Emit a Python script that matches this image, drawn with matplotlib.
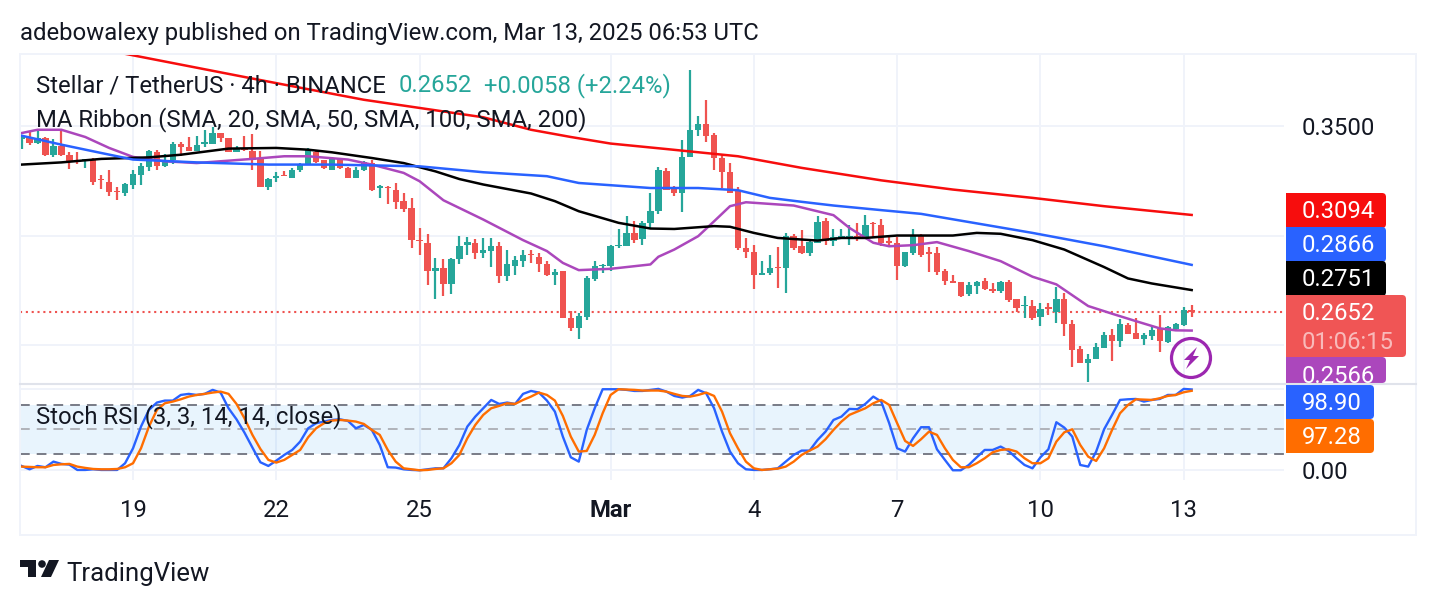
#!/usr/bin/env python

# TradingView style XLM/USDT 4h chart with MA ribbon and Stoch RSI pane.

import matplotlib
matplotlib.use('Agg')
import matplotlib.pyplot as plt
from matplotlib.patches import Rectangle, FancyBboxPatch, Circle, Polygon

plt.rcParams['font.family'] = ['Roboto', 'DejaVu Sans']

# Candles, one per 4h bar
opens = [.3441, .3447, .3423, .3447, .3368, .3410, .3368, .3344, .3340, .3350, .3260, .3246, .3204, .3192, .3233, .3278,
         .3313, .3383, .3319, .3344, .3418, .3404, .3385, .3420, .3420, .3468, .3445, .3380, .3400, .3385, .3350, .3222,
         .3261, .3277, .3264, .3298, .3324, .3380, .3344, .3301, .3354, .3307, .3264, .3298, .3331, .3219, .3222, .3210,
         .3158, .3128, .2980, .2967, .2837, .2853, .2777, .2891, .2959, .2967, .2921, .2929, .2954, .2815, .2863, .2883,
         .2916, .2903, .2872, .2819, .2837, .2625, .2577, .2628, .2800, .2859, .2860, .2950, .2951, .3012, .2982, .3055,
         .3111, .3296, .3213, .3192, .3357, .3480, .3511, .3461, .3354, .3292, .3202, .2944, .2927, .2818, .2827, .2857,
         .2850, .3000, .2951, .2918, .2967, .3065, .2974, .2989, .2989, .2997, .2982, .3058, .3050, .2977, .2964, .2860,
         .2921, .3000, .2924, .2918, .2836, .2793, .2786, .2731, .2769, .2792, .2758, .2746, .2790, .2708, .2678, .2678,
         .2628, .2672, .2653, .2708, .2594, .2480, .2416, .2435, .2486, .2547, .2517, .2593, .2553, .2526, .2541, .2571,
         .2515, .2571, .2590, .2658]
highs = [.3456, .3471, .3486, .3450, .3441, .3476, .3382, .3382, .3350, .3354, .3278, .3301, .3222, .3240, .3298, .3331,
         .3392, .3392, .3374, .3427, .3426, .3450, .3456, .3483, .3496, .3468, .3445, .3407, .3456, .3465, .3385, .3263,
         .3290, .3295, .3309, .3331, .3400, .3385, .3347, .3359, .3354, .3313, .3313, .3339, .3347, .3230, .3225, .3240,
         .3195, .3172, .3035, .3005, .2898, .2891, .2898, .3000, .2994, .2982, .2989, .2989, .2971, .2932, .2906, .2932,
         .2936, .2918, .2883, .2845, .2837, .2655, .2647, .2815, .2883, .2868, .2959, .3030, .3091, .3065, .3065, .3192,
         .3313, .3309, .3228, .3438, .3757, .3547, .3620, .3468, .3369, .3331, .3222, .2989, .2959, .2883, .2913, .2948,
         .3012, .3009, .3027, .2985, .3088, .3081, .3030, .3030, .3046, .3058, .3096, .3062, .3076, .3002, .2994, .2926,
         .3030, .3008, .2947, .2948, .2848, .2822, .2789, .2787, .2792, .2807, .2784, .2792, .2795, .2711, .2726, .2705,
         .2690, .2690, .2766, .2736, .2612, .2495, .2457, .2511, .2561, .2571, .2617, .2599, .2625, .2553, .2591, .2635,
         .2587, .2599, .2672, .2684]
lows = [.3397, .3415, .3420, .3362, .3357, .3365, .3306, .3328, .3310, .3233, .3214, .3182, .3161, .3179, .3211, .3233,
        .3293, .3298, .3313, .3325, .3362, .3385, .3385, .3404, .3420, .3426, .3380, .3380, .3385, .3301, .3220, .3210,
        .3243, .3271, .3261, .3289, .3324, .3331, .3304, .3298, .3306, .3264, .3264, .3295, .3205, .3172, .3146, .3123,
        .3106, .2941, .2910, .2774, .2708, .2726, .2731, .2872, .2913, .2894, .2898, .2857, .2784, .2792, .2819, .2857,
        .2875, .2833, .2815, .2774, .2625, .2564, .2529, .2614, .2792, .2830, .2837, .2944, .2951, .2967, .2956, .3032,
        .3097, .3207, .3179, .3106, .3357, .3453, .3426, .3301, .3217, .3192, .2932, .2898, .2754, .2818, .2818, .2760,
        .2736, .2932, .2916, .2906, .2967, .2959, .2951, .2982, .2959, .2977, .2982, .2989, .2951, .2956, .2799, .2857,
        .2913, .2901, .2833, .2818, .2772, .2781, .2720, .2723, .2731, .2749, .2736, .2736, .2696, .2650, .2622, .2614,
        .2587, .2635, .2599, .2541, .2400, .2416, .2331, .2435, .2486, .2427, .2491, .2549, .2526, .2500, .2523, .2468,
        .2511, .2564, .2587, .2628]
closes = [.3456, .3423, .3445, .3368, .3410, .3368, .3337, .3337, .3350, .3246, .3252, .3198, .3198, .3237, .3283, .3319,
          .3386, .3319, .3347, .3420, .3403, .3385, .3415, .3427, .3468, .3444, .3380, .3395, .3392, .3347, .3222, .3258,
          .3274, .3271, .3301, .3328, .3389, .3337, .3307, .3356, .3307, .3264, .3301, .3334, .3207, .3225, .3216, .3152,
          .3122, .2979, .2974, .2837, .2853, .2777, .2895, .2954, .2970, .2918, .2932, .2954, .2815, .2868, .2886, .2913,
          .2910, .2868, .2818, .2834, .2625, .2579, .2632, .2807, .2860, .2865, .2951, .2957, .3012, .2979, .3058, .3114,
          .3301, .3207, .3192, .3359, .3483, .3511, .3456, .3354, .3289, .3192, .2941, .2924, .2818, .2830, .2853, .2851,
          .3000, .2944, .2918, .2970, .3064, .2974, .2994, .2997, .2997, .2982, .3050, .3053, .2967, .2967, .2863, .2924,
          .3000, .2913, .2915, .2833, .2792, .2783, .2726, .2772, .2790, .2754, .2746, .2789, .2705, .2669, .2684, .2625,
          .2666, .2664, .2708, .2596, .2477, .2416, .2438, .2492, .2547, .2517, .2594, .2550, .2526, .2547, .2567, .2518,
          .2582, .2594, .2660, .2652]

# MA ribbon, read at the bends of each line
ma20_x = [0, 2, 5, 8, 11, 14, 18, 22, 29, 33, 36, 41, 44, 48, 50, 53, 58, 63, 66, 68, 70, 74, 79, 80, 82, 85, 87, 89, 91,
          97, 102, 104, 107, 109, 112, 115, 119, 123, 127, 130, 134, 137, 140, 143, 145, 147]
ma20 = [.3468, .3483, .3483, .3450, .3400, .3359, .3339, .3331, .3350, .3362, .3362, .3347, .3324, .3286, .3248, .3161,
        .3073, .2979, .2929, .2875, .2842, .2848, .2868, .2903, .2936, .2997, .3065, .3134, .3152, .3137, .3093, .3035,
        .2967, .2951, .2956, .2970, .2929, .2883, .2812, .2777, .2678, .2643, .2609, .2576, .2567, .2566]
ma50_x = [0, 5, 10, 16, 20, 26, 32, 36, 39, 44, 48, 52, 55, 58, 64, 67, 70, 75, 79, 82, 87, 89, 92, 95, 100, 103, 106,
          110, 117, 120, 123, 127, 131, 136, 139, 142, 147]
ma50 = [.3324, .3334, .3350, .3357, .3369, .3397, .3400, .3392, .3380, .3354, .3331, .3293, .3258, .3233, .3192, .3157,
        .3111, .3058, .3032, .3030, .3043, .3040, .3012, .2989, .2977, .2989, .2989, .3000, .3000, .3012, .3008, .2979,
        .2936, .2856, .2804, .2781, .2751]
ma100_x = [0, 5, 10, 14, 22, 31, 39, 50, 58, 66, 70, 79, 85, 90, 94, 98, 102, 108, 113, 127, 136, 147]
ma100 = [.3456, .3415, .3377, .3347, .3334, .3324, .3324, .3316, .3289, .3271, .3240, .3217, .3217, .3207, .3172, .3154,
         .3137, .3116, .3099, .3012, .2951, .2866]
ma200_x = [13, 28, 33, 43, 58, 64, 69, 74, 81, 90, 98, 108, 117, 127, 136, 147]
ma200 = [.3830, .3724, .3689, .3620, .3540, .3483, .3450, .3420, .3395, .3362, .3309, .3252, .3210, .3172, .3134, .3094]

stoch_k = [5.3, 1.2, 5.3, 3.7, 10.6, 7.8, 6.9, .4, .4, 1.2, .4, .4, .4, 8.6, 26.9, 53.5,
           73.9, 82.9, 85.3, 85.3, 92.2, 93.5, 92.2, 93.5, 98.4, 95.1, 75.9, 62.4, 46.1, 27.8, 9.8, 5.3,
           11.8, 18.8, 24.9, 35.1, 51.4, 57.6, 59.6, 61.6, 62.4, 60.4, 51.4, 55.5, 49.4, 31, 3.7, 3.3,
           1.2, .4, 0, 1.2, 2.4, 2.4, 14.7, 31, 53.5, 65.7, 75.9, 86.1, 81.2, 82.9, 81.2, 93.5,
           97.1, 95.1, 85.3, 71.8, 41.2, 15.9, 10.6, 49.4, 75.9, 99.2, 99.2, 99.2, 98.4, 97.1, 97.1, 98.4,
           99.6, 96.3, 91, 89, 91, 98.4, 94.3, 75.9, 47.3, 22.9, 8.6, 1.2, .4, .4, 1.2, 2.4,
           10.6, 18.8, 24.1, 24.1, 37.1, 47.3, 61.6, 65.7, 75.1, 74.7, 81.2, 90.2, 84.1, 57.6, 26.9, 22.9,
           39.2, 52.7, 52.7, 25.7, 12.7, 0, 0, 6.5, 15.9, 24.9, 24.9, 29, 23.7, 14.7, 6.5, 2.4,
           15.9, 25.7, 58.8, 52.2, 41.2, 6.5, 4.5, 22.9, 50.2, 67.8, 86.1, 86.9, 87.3, 84.1, 86.1, 87.3,
           92.2, 92.2, 99.6, 98.9]
stoch_d = [4.5, 4.1, 3.7, 3.7, 6.5, 7.3, 7.8, 4.5, 2.9, 1.6, 1.2, 1.2, 1.6, 3.7, 8.6, 26.9,
           53.5, 73.9, 82, 84.1, 86.9, 90.2, 92.2, 93.5, 95.1, 96.3, 93.5, 81.2, 63.7, 43.3, 26.1, 12.7,
           9.4, 12.7, 18.8, 24.9, 40.4, 51.4, 57.6, 60.8, 61.6, 60.8, 59.6, 56.7, 49.4, 43.3, 24.9, 10.6,
           2.4, 1.2, 0, .4, 1.6, 2.4, 8.6, 18.8, 39.2, 55.5, 67.8, 75.9, 78.8, 82, 81.2, 86.1,
           90.2, 95.1, 92.2, 85.3, 66.5, 41.2, 22.9, 23.7, 43.3, 69.8, 92.2, 99.2, 98.8, 98.4, 97.6, 97.6,
           97.6, 96.3, 93.5, 91, 90.2, 92.2, 95.1, 91, 71.8, 45.3, 26.9, 10.6, 2.4, .4, 1.2, 2,
           4.5, 10.6, 18.8, 24.1, 29, 38, 49.4, 59.6, 67.8, 71.8, 75.9, 82, 86.1, 80, 57.6, 35.9,
           29.8, 38, 47.3, 43.3, 26.9, 12.7, 3.7, 3.7, 8.6, 14.7, 22, 24.9, 25.7, 22.9, 14.7, 8.6,
           8.6, 14.7, 35.1, 46.5, 50.2, 31, 16.7, 11.4, 26.9, 49.4, 69.8, 80, 86.9, 86.5, 86.1, 88.2,
           91, 92.2, 95.5, 97.28]

day_ticks = [14, 32, 50, 74, 92, 110, 128, 146]
day_labels = ['19', '22', '25', 'Mar', '4', '7', '10', '13']
price_ticks = [.25, .30, .35]
price_labels = ['', '', '0.3500']
stoch_ticks = [0, 100]
stoch_labels = ['0.00', '']
last_price = .2652

INK = '#131722'
GRID = '#f0f3fa'
UP = '#26a69a'
DOWN = '#ef5350'
FS = 17.2

W, H = 1436, 606
fig = plt.figure(figsize=(W/100, H/100), dpi=100, facecolor='white')


def rect(left, top, right, bottom):
    return [left/W, 1-bottom/H, (right-left)/W, (bottom-top)/H]


# Price pane
ax = fig.add_axes(rect(20, 54, 1284, 384))
ax.set_xlim(-0.2, 158.6)
ax.set_ylim(.2322, .3829)
colours = [UP if c >= o else DOWN for o, c in zip(opens, closes)]
xs = list(range(len(opens)))
ax.vlines(xs, lows, highs, colors=colours, lw=1.6, zorder=3)
ax.bar(xs, [abs(c-o) for o, c in zip(opens, closes)], bottom=[min(o, c) for o, c in zip(opens, closes)],
       width=0.8, color=colours, linewidth=0, zorder=3)
ax.plot(ma20_x, ma20, color='#ab47bc', lw=1.8, zorder=4)
ax.plot(ma50_x, ma50, color='black', lw=1.8, zorder=4)
ax.plot(ma100_x, ma100, color='#2962ff', lw=1.8, zorder=4)
ax.plot(ma200_x, ma200, color='#f70d0d', lw=1.8, zorder=4)
ax.axhline(last_price, color=DOWN, lw=1.5, ls=(0, (1, 1.8)), zorder=2)
ax.set_xticks(day_ticks)
ax.tick_params(axis='x', labelbottom=False, length=0)
ax.yaxis.tick_right()
ax.set_yticks(price_ticks)
ax.set_yticklabels(price_labels, fontsize=FS, color=INK)
ax.tick_params(axis='y', length=0, pad=13)
ax.grid(True, color=GRID, lw=1.4, zorder=0)
ax.set_axisbelow(True)
for s in ax.spines.values():
    s.set_visible(False)

# Stoch RSI pane
ax2 = fig.add_axes(rect(20, 384, 1284, 480))
ax2.set_xlim(-0.2, 158.6)
ax2.set_ylim(-11.9, 105.6)
ax2.axhspan(20, 80, color='#2196f3', alpha=0.1, lw=0, zorder=1)
for level, c in [(80, '#787b86'), (50, '#b0b3ba'), (20, '#787b86')]:
    ax2.axhline(level, color=c, lw=1.4, ls=(0, (5, 3.6)), zorder=2)
ax2.plot(xs, stoch_k, color='#2962ff', lw=1.7, zorder=4)
ax2.plot(xs, stoch_d, color='#ff6d00', lw=1.7, zorder=5)
ax2.set_xticks(day_ticks)
ax2.set_xticklabels(day_labels, fontsize=FS, color=INK)
ax2.get_xticklabels()[3].set_fontweight('bold')
ax2.tick_params(axis='x', length=0, pad=13.7)
ax2.yaxis.tick_right()
ax2.set_yticks(stoch_ticks)
ax2.set_yticklabels(stoch_labels, fontsize=FS, color=INK)
ax2.tick_params(axis='y', length=0, pad=13)
ax2.grid(True, color=GRID, lw=1.4, zorder=0)
ax2.set_axisbelow(True)
for s in ax2.spines.values():
    s.set_visible(False)

# Pixel overlay for the frame, price tags, legends and logo
ov = fig.add_axes([0, 0, 1, 1], zorder=10)
ov.set_xlim(0, W)
ov.set_ylim(H, 0)
ov.set_axis_off()
ov.patch.set_alpha(0)

ov.add_patch(Rectangle((20, 54), 1396, 481, fill=False, edgecolor=GRID, lw=1.4))
ov.plot([20, 1416], [384, 384], color='#e0e3eb', lw=1.5)


def tag(top, bottom, right, colour, label, clip=False):
    box = FancyBboxPatch((1286, top), right-1286, bottom-top, boxstyle='round,pad=0,rounding_size=4',
                         facecolor=colour, edgecolor='none')
    ov.add_patch(box)
    ov.add_patch(Rectangle((1286, top), 6, bottom-top, facecolor=colour, edgecolor='none'))
    t = ov.text(1302, (top+bottom)/2+(4 if clip else -1), label, color='white', fontsize=FS, va='center_baseline')
    if clip:
        t.set_clip_path(box)
    return t


tag(357, 383, 1386, '#ab47bc', '0.2566', clip=True)
tag(193, 228, 1386, '#f70d0d', '0.3094')
tag(227, 262, 1386, '#2962ff', '0.2866')
tag(261, 296, 1386, 'black', '0.2751')
tag(295, 357, 1406, '#f05555', '')
ov.text(1302, 311, '0.2652', color='white', fontsize=FS, va='center_baseline')
ov.text(1302, 340, '01:06:15', color='white', alpha=0.6, fontsize=FS, va='center_baseline')
tag(385, 419, 1374, '#2962ff', '98.90')
tag(419, 453, 1374, '#ff6d00', '97.28')

ov.text(20, 31, 'adebowalexy published on TradingView.com, Mar 13, 2025 06:53 UTC', color=INK, fontsize=FS,
        va='center_baseline')
ov.text(36, 83, 'Stellar / TetherUS · 4h · BINANCE', color=INK, fontsize=FS, va='center_baseline')
ov.text(399, 83, '0.2652', color=UP, fontsize=FS, va='center_baseline')
ov.text(484, 83, '+0.0058 (+2.24%)', color=UP, fontsize=FS, va='center_baseline')
ov.text(36, 117, 'MA Ribbon (SMA, 20, SMA, 50, SMA, 100, SMA, 200)', color=INK, fontsize=FS, va='center_baseline')
ov.text(36, 414, 'Stoch RSI (3, 3, 14, 14, close)', color=INK, fontsize=FS, va='center_baseline')

# Lightning badge
ov.add_patch(Circle((1191, 358), 19.5, fill=False, edgecolor='#9c27b0', lw=2.3))
ov.add_patch(Polygon([(1197, 347), (1184, 360), (1190, 360), (1186, 369), (1199, 356), (1193, 356)],
                     facecolor='#9c27b0', edgecolor='none'))

# TradingView logo
ov.add_patch(Polygon([(20, 560), (36, 560), (36, 577), (28, 577), (28, 567), (20, 567)], facecolor=INK, edgecolor='none'))
ov.add_patch(Circle((42, 564), 3.8, facecolor=INK, edgecolor='none'))
ov.add_patch(Polygon([(49, 560), (59, 560), (51, 577), (41, 577)], facecolor=INK, edgecolor='none'))
ov.text(66, 572, 'TradingView', color=INK, fontsize=18.5, va='center_baseline')

fig.savefig('out.png', dpi=100, facecolor='white')
